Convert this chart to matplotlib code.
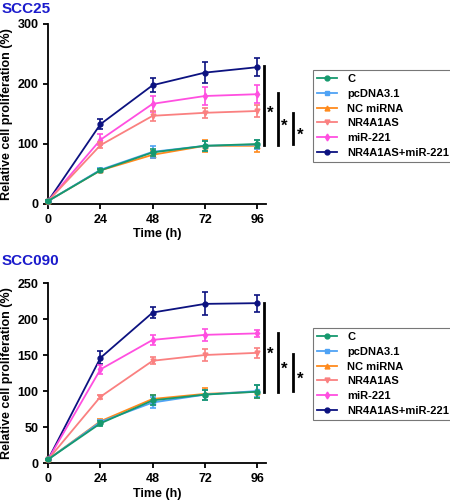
import numpy as np
import matplotlib
matplotlib.use("Agg")
import matplotlib.pyplot as plt
from matplotlib.lines import Line2D

plt.rcParams['font.family'] = ['Liberation Sans', 'DejaVu Sans']
plt.rcParams['font.weight'] = 'bold'

time_h = [0, 24, 48, 72, 96]
groups = ["C", "pcDNA3.1", "NC miRNA", "NR4A1AS", "miR-221", "NR4A1AS+miR-221"]
colors = ["#16996e", "#4fa3f5", "#ff8a1c", "#fa8080", "#ff4fe0", "#0c1280"]
markers = ["o", "s", "^", "v", "d", "o"]

# SCC25
scc25_mean = [
    [5, 56, 86, 97, 100],
    [5, 57, 87, 97, 99],
    [5, 56, 82, 97, 97],
    [5, 98, 147, 152, 155],
    [5, 107, 167, 180, 183],
    [5, 133, 198, 219, 228],
]
scc25_err = [
    [1, 3, 6, 8, 7],
    [1, 3, 10, 8, 8],
    [1, 3, 6, 10, 10],
    [1, 5, 8, 8, 10],
    [1, 9, 13, 15, 15],
    [1, 8, 12, 18, 15],
]

# SCC090
scc090_mean = [
    [5, 55, 87, 95, 99],
    [5, 57, 84, 95, 100],
    [5, 58, 89, 96, 99],
    [5, 92, 142, 150, 153],
    [5, 130, 171, 178, 180],
    [5, 146, 209, 221, 222],
]
scc090_err = [
    [1, 3, 7, 7, 9],
    [1, 3, 8, 7, 8],
    [1, 3, 6, 8, 9],
    [1, 3, 5, 9, 7],
    [1, 6, 7, 8, 5],
    [1, 9, 7, 16, 12],
]

# significance brackets: x position (h), y from, y to
sig25 = [(99, 98, 230), (105.5, 98, 185), (112.5, 100, 152)]
sig090 = [(99, 99, 222), (105.5, 99, 180), (112.5, 100, 152)]

fig = plt.figure(figsize=(4.5, 5), dpi=100)


def panel(rect, title, title_y, means, errs, ymax, ystep, sig, leg_anchor):
    ax = fig.add_axes(rect)
    for i in [5, 4, 3, 2, 1, 0]:
        ax.errorbar(time_h, means[i], yerr=errs[i], color=colors[i], marker=markers[i],
                    markersize=3.5, lw=1.3, capsize=2.5, elinewidth=1.2, capthick=1.2,
                    clip_on=False, zorder=3 + (5 - i))
    ax.set_xlim(0, 100)
    ax.set_ylim(0, ymax)
    ax.set_xticks(time_h)
    ax.set_yticks(np.arange(0, ymax + 1, ystep))
    ax.spines['top'].set_visible(False)
    ax.spines['right'].set_visible(False)
    ax.spines['left'].set_linewidth(1.3)
    ax.spines['bottom'].set_linewidth(1.3)
    ax.tick_params(width=1.3, length=3.5, labelsize=9)
    for lab in ax.get_xticklabels() + ax.get_yticklabels():
        lab.set_fontweight('bold')
    ax.set_xlabel("Time (h)", fontsize=9, fontweight='bold', labelpad=2)
    ax.set_ylabel("Relative cell proliferation (%)", fontsize=9, fontweight='bold', labelpad=3)
    for x, y0, y1 in sig:
        ax.plot([x, x], [y0, y1], color='black', lw=2, clip_on=False)
        ax.text(x + 1.5, (y0 + y1) / 2 - ymax * 0.04, "*", fontsize=12, fontweight='bold',
                ha='left', va='center', clip_on=False)
    fig.text(0.004, title_y, title, color='#1a1acc', fontsize=11,
             fontweight='bold', ha='left', va='center')
    handles = [Line2D([], [], color=c, marker=m, markersize=3.5, lw=1.3)
               for c, m in zip(colors, markers)]
    leg = fig.legend(handles, groups, loc='lower left', bbox_to_anchor=leg_anchor,
                     prop={'size': 8, 'weight': 'bold'}, frameon=True, fancybox=False,
                     edgecolor='#555555', borderpad=0.4, labelspacing=0.42,
                     handlelength=1.8, handletextpad=0.9, borderaxespad=0)
    leg.get_frame().set_linewidth(0.8)
    return ax


panel([0.107, 0.592, 0.484, 0.36], "SCC25", 0.982, scc25_mean, scc25_err, 300, 100, sig25, (0.695, 0.676))
panel([0.107, 0.074, 0.484, 0.36], "SCC090", 0.478, scc090_mean, scc090_err, 250, 50, sig090, (0.695, 0.16))

fig.savefig("out.png", dpi=100)
